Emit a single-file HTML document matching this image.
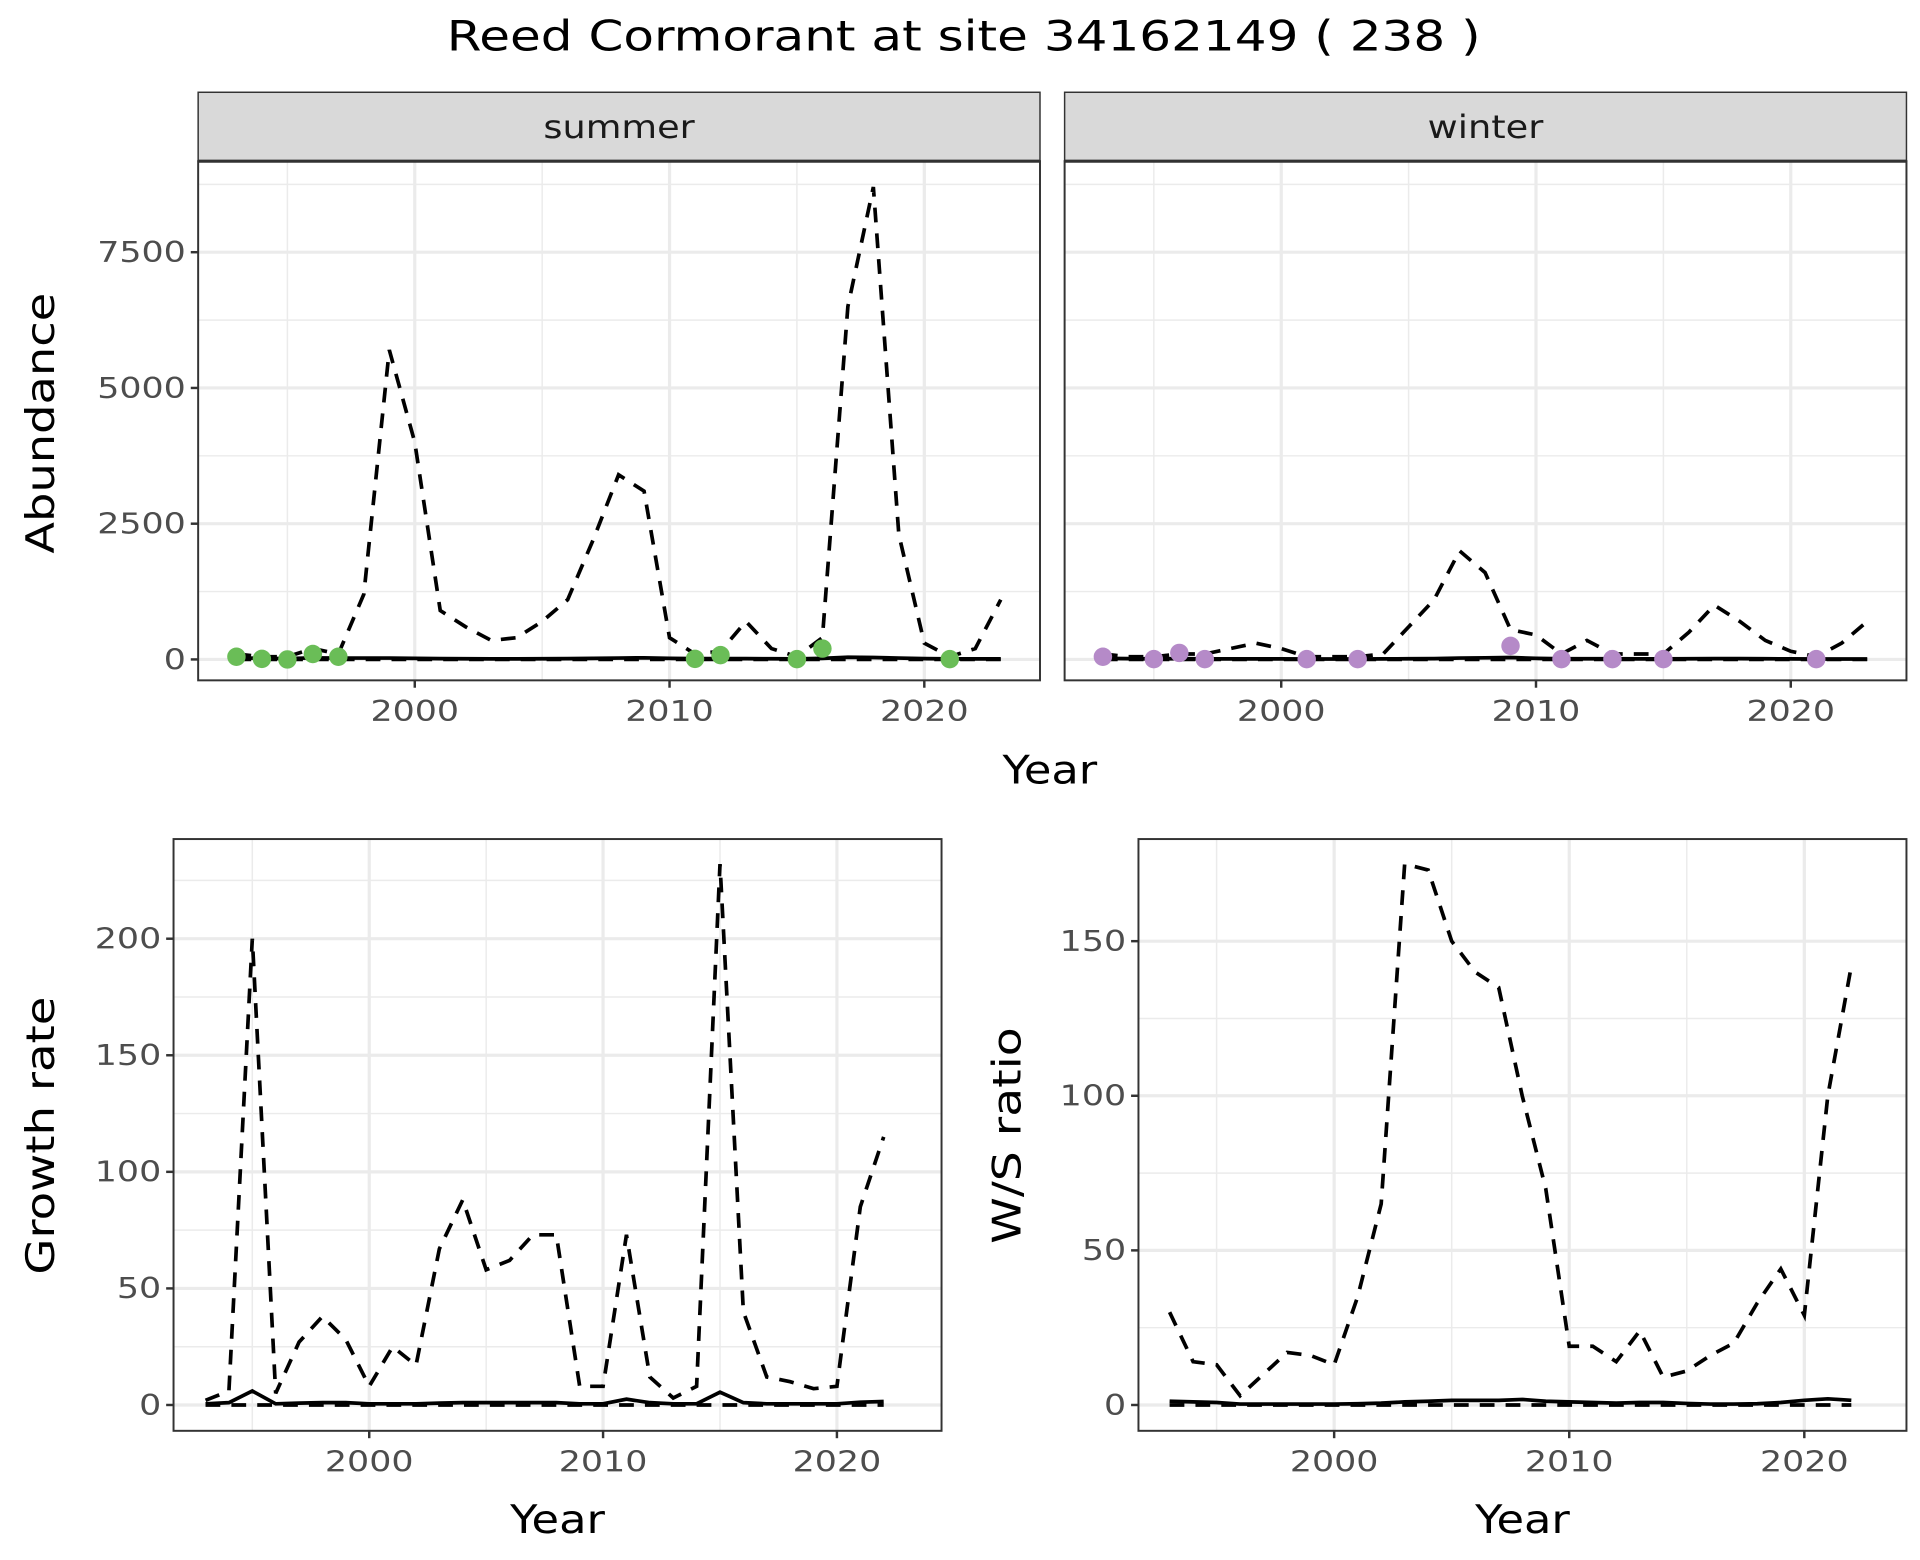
<!DOCTYPE html>
<html><head><meta charset="utf-8"><style>
html,body{margin:0;padding:0;background:#fff;}
svg{display:block;font-family:"DejaVu Sans","Liberation Sans",sans-serif;}
</style></head><body>
<svg id="chart" width="1920" height="1560" viewBox="0 0 1560 1268" preserveAspectRatio="none" xmlns="http://www.w3.org/2000/svg">
<text x="783" y="41" font-size="34" text-anchor="middle" textLength="840" lengthAdjust="spacingAndGlyphs">Reed Cormorant at site 34162149 ( 238 )</text>
</svg>
<script>
const years = [1993,1994,1995,1996,1997,1998,1999,2000,2001,2002,2003,2004,2005,2006,2007,2008,2009,2010,2011,2012,2013,2014,2015,2016,2017,2018,2019,2020,2021,2022,2023];
const summerUpper = [100,50,50,200,100,1200,5700,4000,900,600,350,400,700,1100,2200,3400,3100,400,100,150,700,200,50,400,6500,8700,2300,300,50,200,1100];
const summerMid = [30,20,15,30,25,25,25,20,15,12,10,10,12,15,20,25,30,20,15,15,15,12,10,20,40,35,25,15,10,10,10];
const summerLower = [0,0,0,0,0,0,0,0,0,0,0,0,0,0,0,0,0,0,0,0,0,0,0,0,0,0,0,0,0,0,0];
const summerPtYears = [1993,1994,1995,1996,1997,2011,2012,2015,2016,2021];
const summerPtVals = [50,10,0,100,50,10,80,5,200,5];
const winterUpper = [100,50,50,100,100,200,300,200,50,50,50,100,600,1100,2000,1600,550,450,100,350,100,100,100,500,1000,700,350,150,50,300,700];
const winterMid = [20,15,10,15,10,10,10,10,8,8,8,10,12,15,25,30,35,20,12,12,12,10,10,12,15,15,12,10,8,8,8];
const winterPtYears = [1993,1995,1996,1997,2001,2003,2009,2011,2013,2015,2021];
const winterPtVals = [50,5,120,5,5,5,250,5,5,5,5];
const gYears = years.slice(0,30);
const growthUpper = [2,6,200,5,27,38,28,8,25,17,67,88,58,62,73,73,8,8,73,12,3,8,232,40,12,10,7,8,85,115];
const growthMid = [0.5,1,6,0.5,0.8,1,1,0.5,0.5,0.5,0.8,1,1,1,1,1,0.5,0.5,2.5,1,0.5,0.5,5.5,1,0.5,0.5,0.5,0.5,1.2,1.5];
const growthLower = gYears.map(()=>0);
const wsUpper = [30,14,13,3,10,17,16,13,35,65,175,173,150,140,135,100,70,19,19,14,24,9,11,16,20,33,44,29,100,142];
const wsMid = [1.2,1,0.8,0.3,0.3,0.3,0.3,0.3,0.4,0.6,1,1.2,1.5,1.5,1.5,1.8,1.2,1,0.8,0.6,0.8,0.8,0.5,0.3,0.3,0.4,0.8,1.5,2,1.5];
const wsLower = gYears.map(()=>0);

const svg = document.getElementById('chart');
const NS = 'http://www.w3.org/2000/svg';
function mk(tag, attrs, parent){const e=document.createElementNS(NS,tag);for(const k in attrs)e.setAttribute(k,attrs[k]);(parent||svg).appendChild(e);return e;}

function panel(o){
  const {x0,x1,y0,y1,xs,ys,yTicks,yMinor,xTicks,xMinor,name} = o;
  const g = mk('g',{});
  
  
  mk('rect',{x:x0,y:y0,width:x1-x0,height:y1-y0,fill:'#fff'},g);
  yMinor.forEach(v=>mk('line',{x1:x0,x2:x1,y1:ys(v),y2:ys(v),stroke:'#ebebeb','stroke-width':1.2},g));
  xMinor.forEach(v=>mk('line',{x1:xs(v),x2:xs(v),y1:y0,y2:y1,stroke:'#ebebeb','stroke-width':1.2},g));
  yTicks.forEach(v=>mk('line',{x1:x0,x2:x1,y1:ys(v),y2:ys(v),stroke:'#ebebeb','stroke-width':2.6},g));
  xTicks.forEach(v=>mk('line',{x1:xs(v),x2:xs(v),y1:y0,y2:y1,stroke:'#ebebeb','stroke-width':2.6},g));
  if(o.yLabels){
    yTicks.forEach(v=>{mk('line',{x1:x0-6,x2:x0,y1:ys(v),y2:ys(v),stroke:'#333','stroke-width':2},g);
      const t=mk('text',{x:x0-10,y:ys(v)+8,'font-size':23,fill:'#4d4d4d','text-anchor':'end',textLength:String(v).length*18,lengthAdjust:'spacingAndGlyphs'},g);t.textContent=v;
      
      });
  }
  xTicks.forEach(v=>{mk('line',{x1:xs(v),x2:xs(v),y1:y1,y2:y1+6,stroke:'#333','stroke-width':2},g);
    const t=mk('text',{x:xs(v),y:y1+33,'font-size':23,fill:'#4d4d4d','text-anchor':'middle',textLength:72,lengthAdjust:'spacingAndGlyphs'},g);t.textContent=v;
    
    });
  const line=(xsArr,vals,dash,nm)=>{const p=mk('polyline',{points:xsArr.map((yr,i)=>xs(yr)+','+ys(vals[i])).join(' '),fill:'none',stroke:'#000','stroke-width':3,'stroke-dasharray':dash?'12,9':'none'},g);
    
    };
  o.series.forEach(s=>line(s.x,s.v,s.dash,s.name));
  if(o.points){o.points.x.forEach((yr,i)=>{const c=mk('circle',{cx:xs(yr),cy:ys(o.points.v[i]),r:7.5,fill:o.points.color},g);
    
    });}
  mk('rect',{x:x0,y:y0,width:x1-x0,height:y1-y0,fill:'none',stroke:'#333','stroke-width':1.6},g);
  return g;
}
const lin=(d0,d1,r0,r1)=>v=>r0+(v-d0)*(r1-r0)/(d1-d0);

panel({name:'summer-panel',x0:161,x1:845,y0:131,y1:553,xs:lin(2000,2020,337,751),ys:lin(0,7500,536,205),
  yTicks:[0,2500,5000,7500],yMinor:[1250,3750,6250,8750],xTicks:[2000,2010,2020],xMinor:[1995,2005,2015],yLabels:true,
  series:[{x:years,v:summerUpper,dash:true,name:'summer-upper'},{x:years,v:summerLower,dash:true,name:'summer-lower'},{x:years,v:summerMid,dash:false,name:'summer-trend'}],
  points:{x:summerPtYears,v:summerPtVals,color:'#6abd57'}});
panel({name:'winter-panel',x0:865,x1:1549,y0:131,y1:553,xs:lin(2000,2020,1041,1455),ys:lin(0,7500,536,205),
  yTicks:[0,2500,5000,7500],yMinor:[1250,3750,6250,8750],xTicks:[2000,2010,2020],xMinor:[1995,2005,2015],yLabels:false,
  series:[{x:years,v:winterUpper,dash:true,name:'winter-upper'},{x:years,v:summerLower,dash:true,name:'winter-lower'},{x:years,v:winterMid,dash:false,name:'winter-trend'}],
  points:{x:winterPtYears,v:winterPtVals,color:'#b58ac8'}});
panel({name:'growth-panel',x0:141,x1:765,y0:682,y1:1163,xs:lin(2000,2020,300,680),ys:lin(0,200,1142,763),
  yTicks:[0,50,100,150,200],yMinor:[25,75,125,175,225],xTicks:[2000,2010,2020],xMinor:[1995,2005,2015],yLabels:true,
  series:[{x:gYears,v:growthUpper,dash:true,name:'growth-upper'},{x:gYears,v:growthLower,dash:true,name:'growth-lower'},{x:gYears,v:growthMid,dash:false,name:'growth-trend'}]});
panel({name:'ws-panel',x0:925,x1:1549,y0:682,y1:1163,xs:lin(2000,2020,1084,1466),ys:lin(0,150,1142,765),
  yTicks:[0,50,100,150],yMinor:[25,75,125],xTicks:[2000,2010,2020],xMinor:[1995,2005,2015],yLabels:true,
  series:[{x:gYears,v:wsUpper,dash:true,name:'ws-upper'},{x:gYears,v:wsLower,dash:true,name:'ws-lower'},{x:gYears,v:wsMid,dash:false,name:'ws-trend'}]});

[['summer',161,845,123],['winter',865,1549,94]].forEach(([lab,a,b,w])=>{
  const r=mk('rect',{x:a,y:75,width:b-a,height:56,fill:'#d9d9d9'});
  
  
  mk('line',{x1:a,x2:b,y1:131,y2:131,stroke:'#333','stroke-width':2.5});
  mk('rect',{x:a,y:75,width:b-a,height:56,fill:'none',stroke:'#333','stroke-width':1.2});
  const t=mk('text',{x:(a+b)/2,y:112,'font-size':26,fill:'#1a1a1a','text-anchor':'middle',textLength:w,lengthAdjust:'spacingAndGlyphs'});t.textContent=lab;
  
  
});
function label(txt,x,y,rot,nm,len){const t=mk('text',{x:x,y:y,'font-size':32,'text-anchor':'middle',textLength:len,lengthAdjust:'spacingAndGlyphs',transform:rot?`rotate(-90 ${x} ${y})`:''});t.textContent=txt;
  
  }
label('Year',853,637,false,'top-x-axis-title',77);
label('Abundance',44,344,true,'abundance-y-axis-title',212);
label('Growth rate',44,923,true,'growth-y-axis-title',226);
label('W/S ratio',829,923,true,'ws-y-axis-title',176);
label('Year',453,1246,false,'growth-x-axis-title',77);
label('Year',1237,1246,false,'ws-x-axis-title',77);
</script>
</body></html>
